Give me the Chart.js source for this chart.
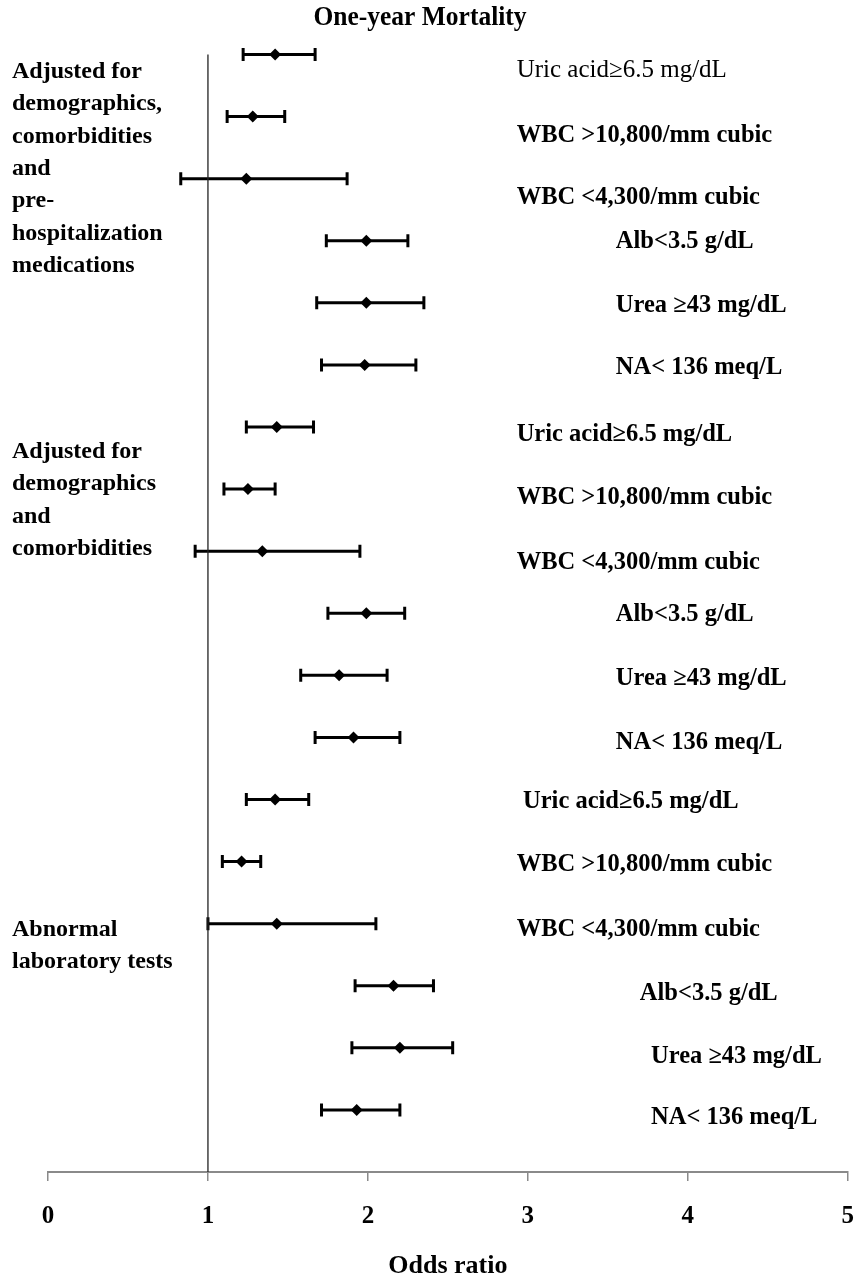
<!DOCTYPE html>
<html>
<head>
<meta charset="utf-8">
<script src="https://cdn.jsdelivr.net/npm/chart.js@4.4.0/dist/chart.umd.min.js"></script>
<style>
html,body{margin:0;padding:0;background:#fff}
#wrap{width:854px;height:1278px;position:relative}
</style>
</head>
<body>
<div id="wrap"><canvas id="c" width="854" height="1278"></canvas></div>
<script>
// ---------- data ----------
const chartTitle = 'One-year Mortality';
const axisTitle = 'Odds ratio';
const xTicks = [0, 1, 2, 3, 4, 5];
const measures = [
  'Uric acid\u22656.5 mg/dL', 'WBC >10,800/mm cubic', 'WBC <4,300/mm cubic',
  'Alb<3.5 g/dL', 'Urea \u226543 mg/dL', 'NA< 136 meq/L',
  'Uric acid\u22656.5 mg/dL', 'WBC >10,800/mm cubic', 'WBC <4,300/mm cubic',
  'Alb<3.5 g/dL', 'Urea \u226543 mg/dL', 'NA< 136 meq/L',
  'Uric acid\u22656.5 mg/dL', 'WBC >10,800/mm cubic', 'WBC <4,300/mm cubic',
  'Alb<3.5 g/dL', 'Urea \u226543 mg/dL', 'NA< 136 meq/L'
];
const groupLabels = [
  ['Adjusted for', 'demographics,', 'comorbidities', 'and', 'pre-', 'hospitalization', 'medications'],
  ['Adjusted for', 'demographics', 'and', 'comorbidities'],
  ['Abnormal', 'laboratory tests']
];
const oddsRatio = [1.42, 1.28, 1.24, 1.99, 1.99, 1.98,
                   1.43, 1.25, 1.34, 1.99, 1.82, 1.91,
                   1.42, 1.21, 1.43, 2.16, 2.20, 1.93];
const ciLower   = [1.22, 1.12, 0.83, 1.74, 1.68, 1.71,
                   1.24, 1.10, 0.92, 1.75, 1.58, 1.67,
                   1.24, 1.09, 1.00, 1.92, 1.90, 1.71];
const ciUpper   = [1.67, 1.48, 1.87, 2.25, 2.35, 2.30,
                   1.66, 1.42, 1.95, 2.23, 2.12, 2.20,
                   1.63, 1.33, 2.05, 2.41, 2.53, 2.20];
const referenceOR = 1;

// ---------- layout (positions, separate from data) ----------
const labelX  = [2.93, 2.93, 2.93, 3.55, 3.55, 3.55,
                 2.93, 2.93, 2.93, 3.55, 3.55, 3.55,
                 2.97, 2.93, 2.93, 3.70, 3.77, 3.77];
const labelDy = [0.25, 0.30, 0.31, 0.02, 0.04, 0.05,
                 0.13, 0.14, 0.19, 0.03, 0.05, 0.08,
                 0.04, 0.05, 0.10, 0.12, 0.15, 0.13];
const groupTopY = [17.72, 11.60, 3.90];
const FONT = "'Liberation Serif','Times New Roman',Times,serif";

const nRows = measures.length;
const rowY = measures.map((_, i) => nRows - i);

function drawText(ctx, s, x, y, font, sy, align) {
  ctx.save();
  ctx.translate(x, y);
  ctx.scale(1, sy);
  ctx.font = font;
  ctx.textAlign = align;
  ctx.textBaseline = 'middle';
  ctx.fillStyle = '#000';
  ctx.fillText(s, 0, 0);
  ctx.restore();
}

const forestPlugin = {
  id: 'forest',
  beforeDatasetsDraw(chart) {
    const ctx = chart.ctx, xs = chart.scales.x, ys = chart.scales.y;
    ctx.save();
    ctx.strokeStyle = '#000';
    ctx.lineWidth = 3;
    ctx.lineCap = 'butt';
    for (let i = 0; i < nRows; i++) {
      const y = ys.getPixelForValue(rowY[i]);
      const x1 = xs.getPixelForValue(ciLower[i]);
      const x2 = xs.getPixelForValue(ciUpper[i]);
      ctx.beginPath();
      ctx.moveTo(x1, y); ctx.lineTo(x2, y);
      ctx.moveTo(x1, y - 6.5); ctx.lineTo(x1, y + 6.5);
      ctx.moveTo(x2, y - 6.5); ctx.lineTo(x2, y + 6.5);
      ctx.stroke();
    }
    ctx.restore();
  },
  afterDraw(chart) {
    const ctx = chart.ctx, xs = chart.scales.x, ys = chart.scales.y;
    drawText(ctx, chartTitle, 420, 18, 'bold 25.5px ' + FONT, 1.05, 'center');
    for (let i = 0; i < nRows; i++) {
      const x = xs.getPixelForValue(labelX[i]);
      const y = ys.getPixelForValue(rowY[i] - labelDy[i]);
      const weight = i === 0 ? '' : 'bold ';
      drawText(ctx, measures[i], x, y, weight + (i === 0 ? '25px ' : '24.5px ') + FONT, 1.0, 'left');
    }
    groupLabels.forEach((lines, g) => {
      const y0 = ys.getPixelForValue(groupTopY[g]);
      lines.forEach((s, k) => {
        drawText(ctx, s, 12, y0 + k * 32.3, 'bold 24px ' + FONT, 1.0, 'left');
      });
    });
  }
};

new Chart(document.getElementById('c'), {
  type: 'scatter',
  data: {
    datasets: [
      {
        type: 'line',
        data: [{x: referenceOR, y: 0}, {x: referenceOR, y: nRows}],
        borderColor: '#222',
        borderWidth: 1.3,
        pointRadius: 0,
        showLine: true
      },
      {
        data: oddsRatio.map((v, i) => ({x: v, y: rowY[i]})),
        pointStyle: 'rectRot',
        pointRadius: 6,
        backgroundColor: '#000',
        borderColor: '#000',
        borderWidth: 0
      }
    ]
  },
  options: {
    responsive: false,
    devicePixelRatio: 1,
    animation: false,
    layout: { padding: { left: 48, right: 6, top: 39, bottom: 0 } },
    plugins: { legend: { display: false }, tooltip: { enabled: false }, title: { display: false } },
    scales: {
      x: {
        type: 'linear',
        min: 0, max: 5,
        afterBuildTicks: (s) => { s.ticks = xTicks.map(v => ({value: v})); },
        grid: { drawOnChartArea: false, drawTicks: true, tickLength: 9, color: '#8a8a8a', lineWidth: 1.5 },
        border: { color: '#8a8a8a', width: 2 },
        ticks: { color: '#000', font: { family: FONT, size: 25, weight: 'bold', lineHeight: 2.88 }, padding: 0 },
        title: { display: true, text: axisTitle, color: '#000', font: { family: FONT, size: 26, weight: 'bold', lineHeight: 1.2 }, padding: { top: -2.6, bottom: -3.6 } }
      },
      y: {
        type: 'linear',
        min: 0, max: 18.25,
        display: false
      }
    }
  },
  plugins: [forestPlugin]
});
</script>
</body>
</html>
